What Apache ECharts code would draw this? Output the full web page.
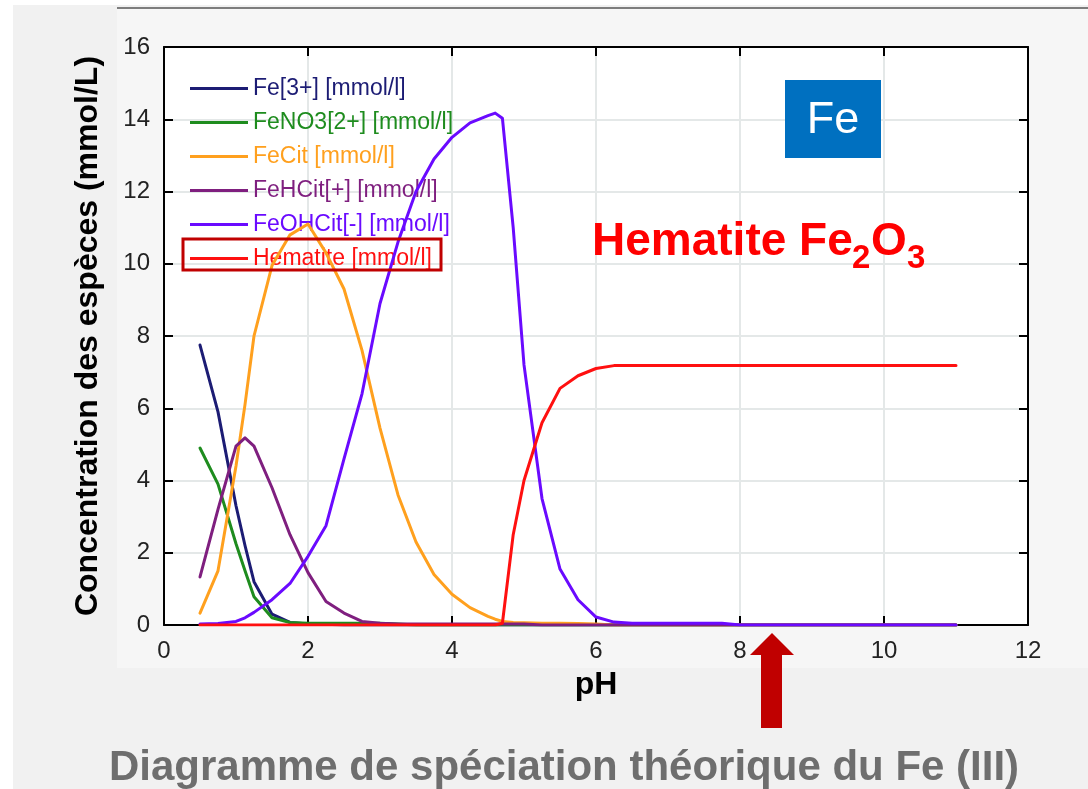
<!DOCTYPE html>
<html>
<head>
<meta charset="utf-8">
<script src="https://cdn.jsdelivr.net/npm/echarts@6/dist/echarts.min.js"></script>
<style>
  html, body { margin: 0; padding: 0; background: #ffffff; }
  #wrap { position: relative; width: 1088px; height: 789px; overflow: hidden; }
  .bg { position: absolute; }
  #chart { position: absolute; left: 0; top: 0; width: 1088px; height: 789px; }
</style>
</head>
<body>
<div id="wrap">
  <div class="bg" style="left:13px;top:5px;width:1075px;height:784px;background:#f1f1f1;"></div>
  <div class="bg" style="left:117px;top:9px;width:971px;height:659px;background:#f6f6f6;"></div>
  <div class="bg" style="left:117px;top:7px;width:971px;height:2px;background:#7d7d7d;"></div>
  <div id="chart"></div>
</div>
<script>
// pH values of the computed speciation points
const pH = [0.5, 0.75, 1, 1.125, 1.25, 1.5, 1.75, 2, 2.25, 2.5, 2.75, 3, 3.25, 3.5, 3.75, 4, 4.25, 4.5, 4.6, 4.7, 4.85, 5, 5.25, 5.5, 5.75, 6, 6.25, 6.5, 7, 7.5, 7.75, 8, 8.5, 9, 9.5, 10, 10.5, 11];

// species concentrations (mmol/L), one value per pH point
const fe3 = [7.75, 5.9, 3.3, 2.2, 1.2, 0.3, 0.07, 0.03, 0.02, 0, 0, 0, 0, 0, 0, 0, 0, 0, 0, 0, 0, 0, 0, 0, 0, 0, 0, 0, 0, 0, 0, 0, 0, 0, 0, 0, 0, 0];
const feNO3 = [4.9, 3.9, 2.25, 1.5, 0.78, 0.2, 0.07, 0.05, 0.05, 0.05, 0.05, 0.05, 0.03, 0, 0, 0, 0, 0, 0, 0, 0, 0, 0, 0, 0, 0, 0, 0, 0, 0, 0, 0, 0, 0, 0, 0, 0, 0];
const feCit = [0.33, 1.5, 4.4, 6.1, 8.0, 9.95, 10.8, 11.1, 10.3, 9.3, 7.6, 5.45, 3.6, 2.3, 1.4, 0.85, 0.48, 0.24, 0.16, 0.1, 0.07, 0.06, 0.05, 0.05, 0.04, 0.03, 0, 0, 0, 0, 0, 0, 0, 0, 0, 0, 0, 0];
const feHCit = [1.33, 3.2, 4.95, 5.18, 4.95, 3.8, 2.5, 1.45, 0.65, 0.33, 0.1, 0.05, 0.03, 0.03, 0.03, 0.03, 0.03, 0.03, 0.03, 0.03, 0.03, 0.03, 0, 0, 0, 0, 0, 0, 0, 0, 0, 0, 0, 0, 0, 0, 0, 0];
const feOHCit = [0.03, 0.04, 0.1, 0.2, 0.35, 0.7, 1.15, 1.9, 2.75, 4.6, 6.4, 8.9, 10.6, 12.0, 12.9, 13.5, 13.9, 14.1, 14.17, 14.03, 11.0, 7.2, 3.5, 1.55, 0.7, 0.22, 0.08, 0.05, 0.05, 0.05, 0.05, 0, 0, 0, 0, 0, 0, 0];
const hematite = [0, 0, 0, 0, 0, 0, 0, 0, 0, 0, 0, 0, 0, 0, 0, 0, 0, 0, 0, 0.05, 2.5, 4.0, 5.6, 6.55, 6.9, 7.1, 7.18, 7.18, 7.18, 7.18, 7.18, 7.18, 7.18, 7.18, 7.18, 7.18, 7.18, 7.18];

const speciesNames = ['Fe[3+] [mmol/l]', 'FeNO3[2+] [mmol/l]', 'FeCit [mmol/l]', 'FeHCit[+] [mmol/l]', 'FeOHCit[-] [mmol/l]', 'Hematite [mmol/l]'];
const speciesValues = [fe3, feNO3, feCit, feHCit, feOHCit, hematite];
const speciesColors = ['#1c1c74', '#1e8c1e', '#ffa01e', '#7f1f7f', '#6a0aff', '#ff1010'];

const xTicks = { min: 0, max: 12, interval: 2 };
const yTicks = { min: 0, max: 16, interval: 2 };

const FONT = '"Liberation Sans", Arial, sans-serif';

const chart = echarts.init(document.getElementById('chart'), null, { renderer: 'canvas' });

const gridLine = { show: true, lineStyle: { color: '#e4e8e8', width: 2 } };
const blackLine = { show: true, onZero: false, lineStyle: { color: '#000', width: 2 } };
const innerTick = { show: true, inside: true, length: 9, lineStyle: { color: '#000', width: 2 } };
const tickLabel = { fontSize: 24, color: '#222', fontFamily: FONT };

const series = speciesNames.map((name, i) => ({
  name: name,
  type: 'line',
  data: pH.map((x, j) => [x, speciesValues[i][j]]),
  smooth: false,
  showSymbol: false,
  symbol: 'none',
  clip: true,
  lineStyle: { color: speciesColors[i], width: 3, join: 'round', cap: 'round' },
  itemStyle: { color: speciesColors[i] },
  z: 2 + i
}));

const option = {
  backgroundColor: 'transparent',
  animation: false,
  grid: {
    left: 164, right: 60, top: 47, bottom: 164,
    show: true, backgroundColor: '#ffffff', borderWidth: 0
  },
  legend: {
    orient: 'vertical',
    left: 185, top: 72,
    icon: 'rect',
    itemWidth: 58, itemHeight: 3,
    itemGap: 11,
    selectedMode: false,
    textStyle: { fontSize: 23, lineHeight: 23, fontFamily: FONT, padding: [0, 0, 0, 0] },
    data: speciesNames.map((n, i) => ({ name: n, textStyle: { color: speciesColors[i] } }))
  },
  xAxis: [
    {
      type: 'value', position: 'bottom',
      min: xTicks.min, max: xTicks.max, interval: xTicks.interval,
      name: 'pH', nameLocation: 'middle', nameGap: 44,
      nameTextStyle: { fontSize: 32, fontWeight: 'bold', color: '#000', fontFamily: FONT },
      axisLine: blackLine, axisTick: innerTick,
      axisLabel: Object.assign({ margin: 14 }, tickLabel),
      splitLine: gridLine
    },
    {
      type: 'value', position: 'top',
      min: xTicks.min, max: xTicks.max, interval: xTicks.interval,
      axisLine: blackLine, axisTick: innerTick,
      axisLabel: { show: false }, splitLine: { show: false }
    }
  ],
  yAxis: [
    {
      type: 'value', position: 'left',
      min: yTicks.min, max: yTicks.max, interval: yTicks.interval,
      name: 'Concentration des espèces (mmol/L)', nameLocation: 'middle', nameGap: 60, nameRotate: 90,
      nameTextStyle: { fontSize: 32, fontWeight: 'bold', color: '#000', fontFamily: FONT },
      axisLine: blackLine, axisTick: innerTick,
      axisLabel: Object.assign({ margin: 14 }, tickLabel),
      splitLine: gridLine
    },
    {
      type: 'value', position: 'right',
      min: yTicks.min, max: yTicks.max, interval: yTicks.interval,
      axisLine: blackLine, axisTick: innerTick,
      axisLabel: { show: false }, splitLine: { show: false }
    }
  ],
  series: series,
  graphic: [
    // highlight frame around the hematite legend entry
    {
      type: 'rect', z: 100,
      shape: { x: 183, y: 239, width: 258, height: 31 },
      style: { fill: 'none', stroke: '#c00000', lineWidth: 3 }
    },
    // element badge
    {
      type: 'rect', z: 100,
      shape: { x: 785, y: 80, width: 96, height: 78 },
      style: { fill: '#0070c0' }
    },
    {
      type: 'text', z: 101,
      style: { x: 833, y: 121, text: 'Fe', fill: '#ffffff', font: '45px ' + FONT, textAlign: 'center', textVerticalAlign: 'middle' }
    },
    // hematite annotation with subscripts
    {
      type: 'text', z: 101,
      style: { x: 592, y: 265, text: 'Hematite Fe', fill: '#ff0000', font: 'bold 46px ' + FONT, textAlign: 'left', textVerticalAlign: 'bottom' }
    },
    {
      type: 'text', z: 101,
      style: { x: 852, y: 275, text: '2', fill: '#ff0000', font: 'bold 33px ' + FONT, textAlign: 'left', textVerticalAlign: 'bottom' }
    },
    {
      type: 'text', z: 101,
      style: { x: 871, y: 265, text: 'O', fill: '#ff0000', font: 'bold 46px ' + FONT, textAlign: 'left', textVerticalAlign: 'bottom' }
    },
    {
      type: 'text', z: 101,
      style: { x: 907, y: 275, text: '3', fill: '#ff0000', font: 'bold 33px ' + FONT, textAlign: 'left', textVerticalAlign: 'bottom' }
    },
    // arrow pointing at pH 8.5
    {
      type: 'polygon', z: 100,
      shape: { points: [[772, 633], [794, 655], [782, 655], [782, 728], [761, 728], [761, 655], [750, 655]] },
      style: { fill: '#c00000' }
    },
    // caption
    {
      type: 'text', z: 101,
      style: { x: 564, y: 768, text: 'Diagramme de spéciation théorique du Fe (III)', fill: '#6e6e6e', font: 'bold 42px ' + FONT, textAlign: 'center', textVerticalAlign: 'middle' }
    }
  ]
};

chart.setOption(option);
</script>
</body>
</html>
